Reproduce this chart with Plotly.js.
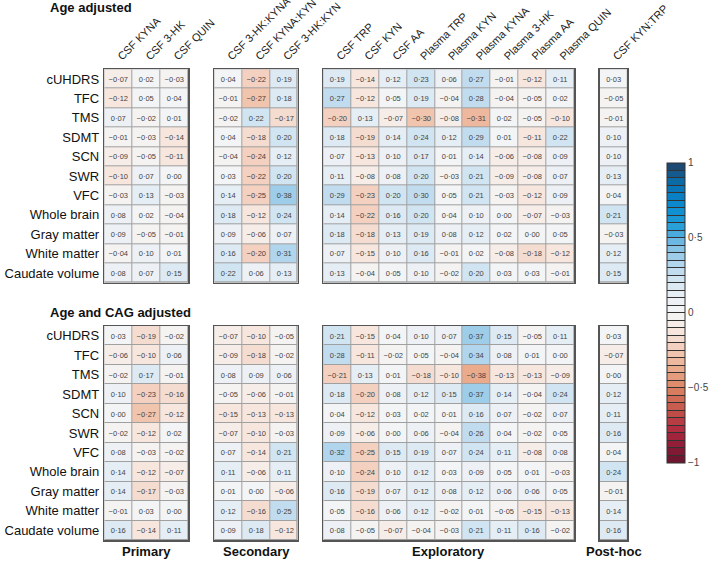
<!DOCTYPE html>
<html><head><meta charset="utf-8">
<script src="https://cdn.plot.ly/plotly-3.0.1.min.js"></script>
<style>html,body{margin:0;padding:0;background:#fff}#chart{width:709px;height:562px}</style>
</head><body><div id="chart"></div>
<script>
// ---------- DATA ----------
const outcomes = ['cUHDRS','TFC','TMS','SDMT','SCN','SWR','VFC','Whole brain','Gray matter','White matter','Caudate volume'];
const primaryLabels = ['CSF KYNA','CSF 3-HK','CSF QUIN'];
const secondaryLabels = ['CSF 3-HK:KYNA','CSF KYNA:KYN','CSF 3-HK:KYN'];
const exploratoryLabels = ['CSF TRP','CSF KYN','CSF AA','Plasma TRP','Plasma KYN','Plasma KYNA','Plasma 3-HK','Plasma AA','Plasma QUIN'];
const posthocLabels = ['CSF KYN:TRP'];
const groupNames = ['Primary','Secondary','Exploratory','Post-hoc'];
const panelTitles = ['Age adjusted','Age and CAG adjusted'];

// Age adjusted
const agePrimary = [
  [-0.07, 0.02,-0.03],[-0.12, 0.05, 0.04],[ 0.07,-0.02, 0.01],[-0.01,-0.03,-0.14],
  [-0.09,-0.05,-0.11],[-0.10, 0.07, 0.00],[-0.03, 0.13,-0.03],[ 0.08, 0.02,-0.04],
  [ 0.09,-0.05,-0.01],[-0.04, 0.10, 0.01],[ 0.08, 0.07, 0.15]];
const ageSecondary = [
  [ 0.04,-0.22, 0.19],[-0.01,-0.27, 0.18],[-0.02, 0.22,-0.17],[ 0.04,-0.18, 0.20],
  [-0.04,-0.24, 0.12],[ 0.03,-0.22, 0.20],[ 0.14,-0.25, 0.38],[ 0.18,-0.12, 0.24],
  [ 0.09,-0.06, 0.07],[ 0.16,-0.20, 0.31],[ 0.22, 0.06, 0.13]];
const ageExploratory = [
  [ 0.19,-0.14, 0.12, 0.23, 0.06, 0.27,-0.01,-0.12, 0.11],
  [ 0.27,-0.12, 0.05, 0.19,-0.04, 0.28,-0.04,-0.05, 0.02],
  [-0.20, 0.13,-0.07,-0.30,-0.08,-0.31, 0.02,-0.05,-0.10],
  [ 0.18,-0.19, 0.14, 0.24, 0.12, 0.29, 0.01,-0.11, 0.22],
  [ 0.07,-0.13, 0.10, 0.17, 0.01, 0.14,-0.06,-0.08, 0.09],
  [ 0.11,-0.08, 0.08, 0.20,-0.03, 0.21,-0.09,-0.08, 0.07],
  [ 0.29,-0.23, 0.20, 0.30, 0.05, 0.21,-0.03,-0.12, 0.09],
  [ 0.14,-0.22, 0.16, 0.20, 0.04, 0.10, 0.00,-0.07,-0.03],
  [ 0.18,-0.18, 0.13, 0.19, 0.08, 0.12, 0.02, 0.00, 0.05],
  [ 0.07,-0.15, 0.10, 0.16,-0.01, 0.02,-0.08,-0.18,-0.12],
  [ 0.13,-0.04, 0.05, 0.10,-0.02, 0.20, 0.03, 0.03,-0.01]];
const agePosthoc = [[0.03],[-0.05],[-0.01],[0.10],[0.10],[0.13],[0.04],[0.21],[-0.03],[0.12],[0.15]];

// Age and CAG adjusted
const cagPrimary = [
  [ 0.03,-0.19,-0.02],[-0.06,-0.10, 0.06],[-0.02, 0.17,-0.01],[ 0.10,-0.23,-0.16],
  [ 0.00,-0.27,-0.12],[-0.02,-0.12, 0.02],[ 0.08,-0.03,-0.02],[ 0.14,-0.12,-0.07],
  [ 0.14,-0.17,-0.03],[-0.01, 0.03, 0.00],[ 0.16,-0.14, 0.11]];
const cagSecondary = [
  [-0.07,-0.10,-0.05],[-0.09,-0.18,-0.02],[ 0.08, 0.09, 0.06],[-0.05,-0.06,-0.01],
  [-0.15,-0.13,-0.13],[-0.07,-0.10,-0.03],[ 0.07,-0.14, 0.21],[ 0.11,-0.06, 0.11],
  [ 0.01, 0.00,-0.06],[ 0.12,-0.16, 0.25],[ 0.09, 0.18,-0.12]];
const cagExploratory = [
  [ 0.21,-0.15, 0.04, 0.10, 0.07, 0.37, 0.15,-0.05, 0.11],
  [ 0.28,-0.11,-0.02, 0.05,-0.04, 0.34, 0.08, 0.01, 0.00],
  [-0.21, 0.13, 0.01,-0.18,-0.10,-0.38,-0.13,-0.13,-0.09],
  [ 0.18,-0.20, 0.08, 0.12, 0.15, 0.37, 0.14,-0.04, 0.24],
  [ 0.04,-0.12, 0.03, 0.02, 0.01, 0.16, 0.07,-0.02, 0.07],
  [ 0.09,-0.06, 0.00, 0.06,-0.04, 0.26, 0.04,-0.02, 0.05],
  [ 0.32,-0.25, 0.15, 0.19, 0.07, 0.24, 0.11,-0.08, 0.08],
  [ 0.10,-0.24, 0.10, 0.12, 0.03, 0.09, 0.05, 0.01,-0.03],
  [ 0.16,-0.19, 0.07, 0.12, 0.08, 0.12, 0.06, 0.06, 0.05],
  [ 0.05,-0.16, 0.06, 0.12,-0.02, 0.01,-0.05,-0.15,-0.13],
  [ 0.08,-0.05,-0.07,-0.04,-0.03, 0.21, 0.11, 0.16,-0.02]];
const cagPosthoc = [[0.03],[-0.07],[0.00],[0.12],[0.11],[0.16],[0.04],[0.24],[-0.01],[0.14],[0.16]];

// 40-step colour legend, from -1 (bottom) to +1 (top)
const legendColors = ['#6e1630','#801a34','#921e38','#a2243c','#b02e40','#b83c44','#c04c48','#c85c4e',
  '#d06c56','#d87c60','#de8c6c','#e49c7c','#eaaa8c','#eeb89e','#f1c4ae','#f3d0c0','#f5dcd0','#f6e6de',
  '#f6ede8','#f5f3f2','#f3f4f5','#edf1f5','#e6eef5','#dde9f3','#d0e4f1','#c2dcef','#b0d5ec','#9ecde9',
  '#88c4e6','#6cb8e2','#4aaadc','#2aa0d8','#1a98d6','#1190d2','#0c88cc','#0a80c4','#0a76b8','#0c6aa5',
  '#145a8c','#1d4a72'];
const legendTickLabels = {'-1':'\u22121','-0.5':'\u22120\u00B75','0':'0','0.5':'0\u00B75','1':'1'};

// ---------- BUILD ----------
const W = 709, H = 562;
const px = v => v / W, py = v => 1 - v / H;
const xDom = [[104.3,188.3],[214.3,297.7],[323.3,574.3],[599.7,627.3]];
const yDom = [[69.3,282.7],[326,540]];

const n = legendColors.length;
const colorscale = [];
legendColors.forEach((c, k) => { colorscale.push([k / n, c]); colorscale.push([(k + 1) / n, c]); });

const fmt = v => (v < 0 ? '\u2212' : '') + Math.abs(v).toFixed(2).replace('.', '\u00B7');

const colLabels = [primaryLabels, secondaryLabels, exploratoryLabels, posthocLabels];
const panels = [[agePrimary, ageSecondary, ageExploratory, agePosthoc],
                [cagPrimary, cagSecondary, cagExploratory, cagPosthoc]];

const tickvals = [], ticktext = [];
for (let k = 0; k <= n; k++) {
  const v = Math.round((-1 + 2 * k / n) * 1000) / 1000;
  tickvals.push(v);
  ticktext.push(legendTickLabels[String(v)] || '');
}

const FONT = 'Liberation Sans, Arial, sans-serif';
const traces = [];
const layout = {
  width: W, height: H, autosize: false,
  margin: {l: 0, r: 0, t: 0, b: 0, autoexpand: false},
  paper_bgcolor: '#ffffff', plot_bgcolor: '#a0a0a0',
  font: {family: FONT, color: '#222'},
  showlegend: false,
  annotations: [], shapes: []
};

let idx = 0;
panels.forEach((groups, p) => {
  groups.forEach((z, g) => {
    idx++;
    const xa = idx === 1 ? 'x' : 'x' + idx;
    const ya = idx === 1 ? 'y' : 'y' + idx;
    const tr = {
      type: 'heatmap', z: z, x: colLabels[g], y: outcomes,
      text: z.map(r => r.map(fmt)), texttemplate: '%{text}',
      textfont: {family: FONT, size: 7.5, color: '#444'},
      colorscale: colorscale, zmin: -1, zmax: 1,
      xgap: 1, ygap: 1, hoverinfo: 'skip',
      xaxis: xa, yaxis: ya, showscale: idx === 1
    };
    if (idx === 1) {
      tr.colorbar = {
        x: px(666.7), xanchor: 'left', xpad: 0,
        y: py(312.85), yanchor: 'middle', ypad: 0,
        len: 300, lenmode: 'pixels', thickness: 18, thicknessmode: 'pixels',
        outlinecolor: '#333', outlinewidth: 1,
        tickmode: 'array', tickvals: tickvals, ticktext: ticktext,
        ticks: 'inside', ticklen: 18, tickcolor: '#333', tickwidth: 1,
        tickfont: {family: FONT, size: 10, color: '#444'}
      };
    }
    traces.push(tr);
    const xkey = idx === 1 ? 'xaxis' : 'xaxis' + idx;
    const ykey = idx === 1 ? 'yaxis' : 'yaxis' + idx;
    layout[xkey] = {
      domain: [px(xDom[g][0]), px(xDom[g][1])], anchor: ya,
      side: 'top', type: 'category', showticklabels: p === 0, tickangle: -45,
      ticks: 'outside', ticklen: 1, tickcolor: 'rgba(0,0,0,0)',
      tickfont: {family: FONT, size: 11, color: '#222'},
      showline: true, mirror: true, linecolor: '#555', linewidth: 1.5,
      showgrid: false, zeroline: false, fixedrange: true, automargin: false
    };
    layout[ykey] = {
      domain: [py(yDom[p][1]), py(yDom[p][0])], anchor: xa,
      type: 'category', autorange: 'reversed', showticklabels: g === 0,
      ticks: 'outside', ticklen: 1, tickcolor: 'rgba(0,0,0,0)',
      tickfont: {family: FONT, size: 13, color: '#111'},
      showline: true, mirror: true, linecolor: '#555', linewidth: 1.5,
      showgrid: false, zeroline: false, fixedrange: true, automargin: false
    };
  });
});

// panel titles
[8, 312.5].forEach((yc, p) => {
  layout.annotations.push({text: '<b>' + panelTitles[p] + '</b>', xref: 'paper', yref: 'paper',
    x: px(47.5), y: py(yc), xanchor: 'left', yanchor: 'middle', showarrow: false,
    font: {family: FONT, size: 13, color: '#111'}});
});
// group labels
groupNames.forEach((name, g) => {
  layout.annotations.push({text: '<b>' + name + '</b>', xref: 'paper', yref: 'paper',
    x: px((xDom[g][0] + xDom[g][1]) / 2), y: py(551.7), xanchor: 'center', yanchor: 'middle',
    showarrow: false, font: {family: FONT, size: 13, color: '#111'}});
});

Plotly.newPlot('chart', traces, layout, {displayModeBar: false, staticPlot: true});
</script></body></html>
